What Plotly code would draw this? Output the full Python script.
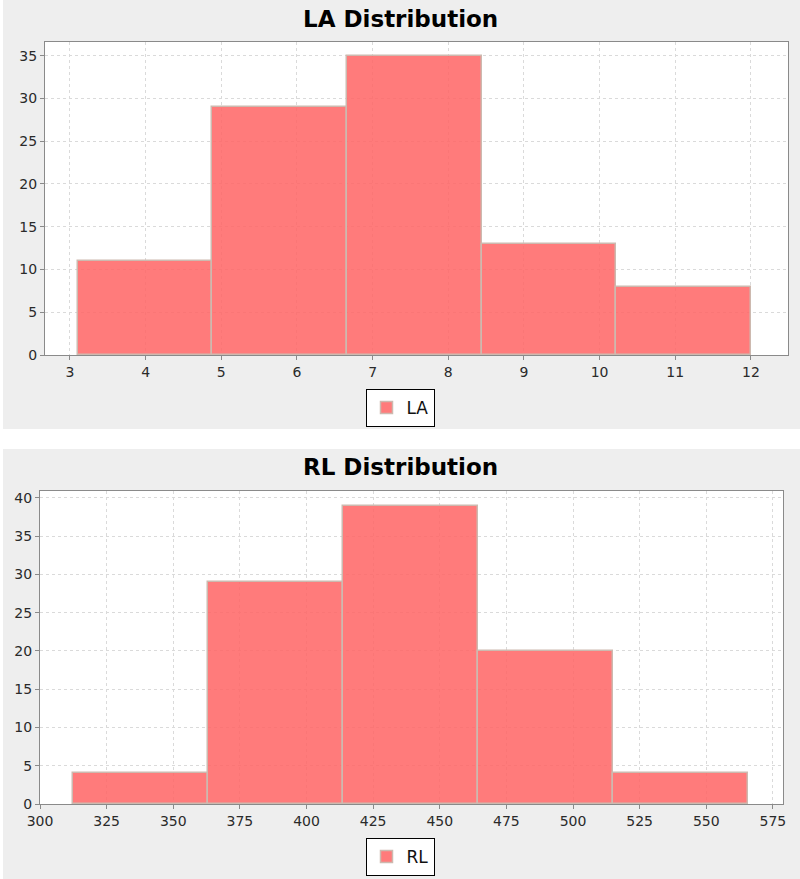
import plotly.graph_objects as go

# ---- data ----
la_bin_start = 3.1
la_bin_width = 1.78
la_counts = [11, 29, 35, 13, 8]

rl_bin_start = 312.3
rl_bin_width = 50.66
rl_counts = [4, 29, 39, 20, 4]

la_title = "LA Distribution"
rl_title = "RL Distribution"

bar_color = "rgba(255,100,100,0.85)"
edge_color = "rgb(205,185,175)"

la_left = [la_bin_start + i * la_bin_width for i in range(len(la_counts))]
rl_left = [rl_bin_start + i * rl_bin_width for i in range(len(rl_counts))]

fig = go.Figure()
fig.add_trace(go.Bar(
    x=la_left, y=la_counts, width=la_bin_width, offset=0,
    marker=dict(color=bar_color, line=dict(color=edge_color, width=1.5)),
    name="LA", xaxis="x", yaxis="y", legend="legend",
))
fig.add_trace(go.Bar(
    x=rl_left, y=rl_counts, width=rl_bin_width, offset=0,
    marker=dict(color=bar_color, line=dict(color=edge_color, width=1.5)),
    name="RL", xaxis="x2", yaxis="y2", legend="legend2",
))

H = 879.0
W = 800.0
FONT = "DejaVu Sans, Verdana, sans-serif"
axis_common = dict(
    showline=True, linecolor="#8a8a8a", linewidth=1, mirror=True,
    ticks="outside", ticklen=4, tickcolor="#8a8a8a",
    showgrid=True, gridcolor="#dadada", griddash="3px,3px", gridwidth=1,
    zeroline=False, automargin=False,
    tickfont=dict(family=FONT, size=14, color="#2a2a2a"),
)

legend_common = dict(
    x=0.5, xanchor="center", yanchor="top",
    bgcolor="white", bordercolor="black", borderwidth=1,
    font=dict(family=FONT, size=17, color="#111"),
    itemwidth=30, tracegroupgap=0,
)

fig.update_layout(
    template="none",
    width=800, height=879,
    margin=dict(l=0, r=0, t=0, b=0, pad=0, autoexpand=False),
    paper_bgcolor="#eeeeee",
    plot_bgcolor="white",
    bargap=0,
    xaxis=dict(domain=[45 / W, 788 / W], range=[2.67, 12.49], dtick=1, tick0=3,
               anchor="y", **axis_common),
    yaxis=dict(domain=[(H - 355) / H, (H - 42) / H], range=[0, 36.6], dtick=5,
               anchor="x", **axis_common),
    xaxis2=dict(domain=[40 / W, 783 / W], range=[300, 578.8], dtick=25, tick0=300,
                anchor="y2", **axis_common),
    yaxis2=dict(domain=[(H - 804) / H, (H - 491) / H], range=[0, 40.9], dtick=5,
                anchor="x2", **axis_common),
    legend=dict(y=(H - 389) / H, **legend_common),
    legend2=dict(y=(H - 838) / H, **legend_common),
    showlegend=True,
    shapes=[
        dict(type="rect", xref="paper", yref="paper", x0=0, x1=1,
             y0=(H - 449) / H, y1=(H - 429) / H, fillcolor="white",
             line=dict(width=0), layer="below"),
        dict(type="rect", xref="paper", yref="paper", x0=0, x1=3 / W,
             y0=0, y1=1, fillcolor="white", line=dict(width=0), layer="below"),
    ],
    annotations=[
        dict(text="<b>" + la_title + "</b>", xref="paper", yref="paper",
             x=0.5, y=(H - 19) / H, xanchor="center", yanchor="middle",
             showarrow=False, font=dict(family=FONT, size=23, color="black")),
        dict(text="<b>" + rl_title + "</b>", xref="paper", yref="paper",
             x=0.5, y=(H - 467) / H, xanchor="center", yanchor="middle",
             showarrow=False, font=dict(family=FONT, size=23, color="black")),
    ],
)

fig.write_html("out.html", post_script="document.body.style.margin='0';",
               config={"displayModeBar": False})
